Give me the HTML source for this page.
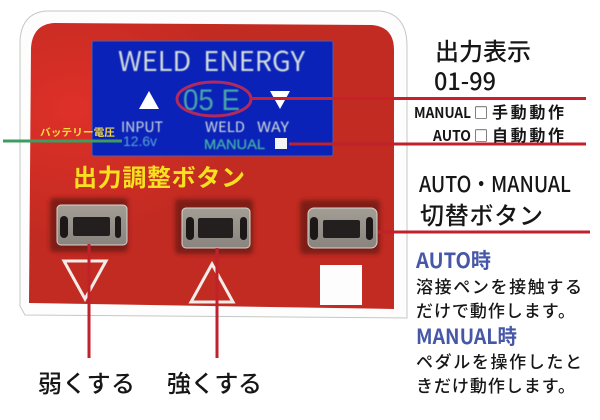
<!DOCTYPE html>
<html lang="ja"><head><meta charset="utf-8"><title>WELD ENERGY</title>
<style>html,body{margin:0;padding:0;background:#fff}svg{display:block}
text{font-family:"Liberation Sans","Noto Sans CJK JP",sans-serif}
.j{font-family:"Noto Sans CJK JP","Liberation Sans",sans-serif;font-weight:500;fill:#161616}
.h{font-family:"Noto Sans CJK JP","Liberation Sans",sans-serif;font-weight:700;fill:#161616}
.b{font-family:"Noto Sans CJK JP","Liberation Sans",sans-serif;font-weight:700;fill:#4657a8}
.s{font-family:"Noto Sans CJK JP","Liberation Sans",sans-serif;fill:#d0dcdc;font-weight:400}
</style></head><body>
<svg width="600" height="420" viewBox="0 0 600 420" xmlns="http://www.w3.org/2000/svg">
<defs>
<radialGradient id="g" cx="0.12" cy="0.3" r="0.45"><stop offset="0" stop-color="#de3028"/><stop offset="1" stop-color="#c22b22"/></radialGradient>
<linearGradient id="k" x1="0" y1="0" x2="0" y2="1"><stop offset="0" stop-color="#a39d95"/><stop offset="1" stop-color="#89847e"/></linearGradient>
<filter id="bl" x="-20%" y="-20%" width="140%" height="140%"><feGaussianBlur stdDeviation="2"/></filter>
<filter id="sf"><feGaussianBlur stdDeviation="0.4"/></filter>
</defs>
<rect width="600" height="420" fill="#fff"/>
<path d="M46 11H380Q407 14 407 46V318L25 315L20 306V40Q22 13 46 11Z" fill="#fdfdfd" stroke="#c4c8c4" stroke-width="1"/>
<path d="M54 23L372 25Q394 27 394 50V309L29 303L31 48C32 32 40 24 54 23Z" fill="url(#g)"/>
<rect x="92" y="41" width="241" height="115" rx="2" fill="#0a22b8" stroke="#5a5aa0" stroke-width="1"/>
<g filter="url(#sf)">
<text class="s" x="118" y="71" font-size="27" textLength="187" lengthAdjust="spacingAndGlyphs" xml:space="preserve">WELD  ENERGY</text>
<text x="183" y="110" font-size="30" fill="#4aa6a8" textLength="57" lengthAdjust="spacingAndGlyphs">05 E</text>
<text class="s" x="121" y="132" font-size="14" font-weight="500" textLength="42" lengthAdjust="spacingAndGlyphs">INPUT</text>
<text x="123" y="146" font-size="14" fill="#5aa6d8" textLength="34" lengthAdjust="spacingAndGlyphs">12.6v</text>
<text class="s" x="205" y="132" font-size="14" font-weight="500" textLength="40" lengthAdjust="spacingAndGlyphs">WELD</text>
<text class="s" x="257" y="132" font-size="14" font-weight="500" textLength="32" lengthAdjust="spacingAndGlyphs">WAY</text>
<text x="204" y="149" font-size="14" fill="#45b0a8" stroke="#45b0a8" stroke-width=".3" textLength="61" lengthAdjust="spacingAndGlyphs">MANUAL</text>
</g>
<polygon points="139,109 159,109 149,91" fill="#fff"/>
<polygon points="270,91 290,91 280,109" fill="#fff"/>
<ellipse cx="214" cy="99" rx="37" ry="17" fill="none" stroke="#b02a5e" stroke-width="3"/>
<rect x="275" y="138" width="12" height="11" fill="#f4f4f4"/>
<text x="40" y="136" font-size="10" fill="#f7dc40" font-weight="700" textLength="75" lengthAdjust="spacingAndGlyphs">バッテリー電圧</text>
<text x="73" y="186" font-size="24" fill="#f6e020" font-weight="700" textLength="172" lengthAdjust="spacing">出力調整ボタン</text>

<g fill="#7e1a18" filter="url(#bl)">
<rect x="50" y="198" width="78" height="54" rx="4"/>
<rect x="175" y="199" width="78" height="55" rx="4"/>
<rect x="300" y="200" width="80" height="54" rx="4"/>
</g>
<g>
<rect x="57" y="205" width="70" height="40" rx="4" fill="url(#k)" stroke="#d8d4cc"/>
<rect x="182" y="208" width="68" height="40" rx="4" fill="url(#k)" stroke="#d8d4cc"/>
<rect x="308" y="208" width="69" height="40" rx="6" fill="url(#k)" stroke="#d8d4cc"/>
<rect x="73" y="217" width="37" height="19" rx="2" fill="#241f1f"/>
<rect x="60" y="216" width="8" height="22" rx="4" fill="#1c1818"/>
<rect x="115" y="216" width="6" height="22" rx="3" fill="#1c1818"/>
<rect x="198" y="218" width="35" height="20" rx="2" fill="#241f1f"/>
<rect x="186" y="217" width="8" height="23" rx="4" fill="#1c1818"/>
<rect x="240" y="217" width="7" height="23" rx="3.5" fill="#1c1818"/>
<rect x="323" y="220" width="37" height="18" rx="2" fill="#241f1f"/>
<rect x="310" y="217" width="8" height="23" rx="4" fill="#1c1818"/>
<rect x="366" y="217" width="7" height="23" rx="3.5" fill="#1c1818"/>
</g>
<polygon points="64,261 106,261 85,299" fill="none" stroke="#f4ece8" stroke-width="3"/>
<polygon points="212,264 233,302 191,302" fill="none" stroke="#f4ece8" stroke-width="3"/>
<rect x="320" y="265" width="42" height="40" fill="#fdfdfd"/>

<g stroke-width="3" fill="none">
<path d="M250 98.5H586" stroke="#c81f2c"/>
<path d="M289 144H586" stroke="#c0222c"/>
<path d="M378 232H590" stroke="#c0222c"/>
<path d="M89 244V358" stroke="#c0222c"/>
<path d="M217 248V358" stroke="#c0222c"/>
<path d="M3 141H122" stroke="#3f9c60"/>
</g>

<text class="j" x="435" y="60" font-size="24" textLength="96">出力表示</text>
<text class="j" x="434" y="90" font-size="24" textLength="62" lengthAdjust="spacingAndGlyphs">01-99</text>
<text class="h" x="414" y="118" font-size="15" textLength="57" lengthAdjust="spacingAndGlyphs">MANUAL</text>
<text class="j" x="474" y="118" font-size="14" textLength="14" lengthAdjust="spacingAndGlyphs">□</text>
<text class="h" x="492" y="118" font-size="16" textLength="72" lengthAdjust="spacing">手動動作</text>
<text class="h" x="433" y="141" font-size="15" textLength="38" lengthAdjust="spacingAndGlyphs">AUTO</text>
<text class="j" x="474" y="141" font-size="14" textLength="14" lengthAdjust="spacingAndGlyphs">□</text>
<text class="h" x="492" y="141" font-size="16" textLength="72" lengthAdjust="spacing">自動動作</text>
<text class="j" x="419" y="192" font-size="22" textLength="152" lengthAdjust="spacingAndGlyphs">AUTO・MANUAL</text>
<text class="j" x="420" y="224" font-size="24" textLength="123">切替ボタン</text>
<text class="b" x="416" y="268" font-size="21" textLength="75" lengthAdjust="spacingAndGlyphs">AUTO時</text>
<text class="j" x="416" y="293" font-size="17" textLength="166">溶接ペンを接触する</text>
<text class="j" x="416" y="317" font-size="17" textLength="159">だけで動作します。</text>
<text class="b" x="416" y="344" font-size="21" textLength="101" lengthAdjust="spacingAndGlyphs">MANUAL時</text>
<text class="j" x="416" y="368" font-size="17" textLength="166">ペダルを操作したと</text>
<text class="j" x="416" y="392" font-size="17" textLength="159">きだけ動作します。</text>
<text class="j" x="38" y="392" font-size="24" textLength="97">弱くする</text>
<text class="j" x="167" y="392" font-size="24" textLength="95">強くする</text>
</svg>
</body></html>
